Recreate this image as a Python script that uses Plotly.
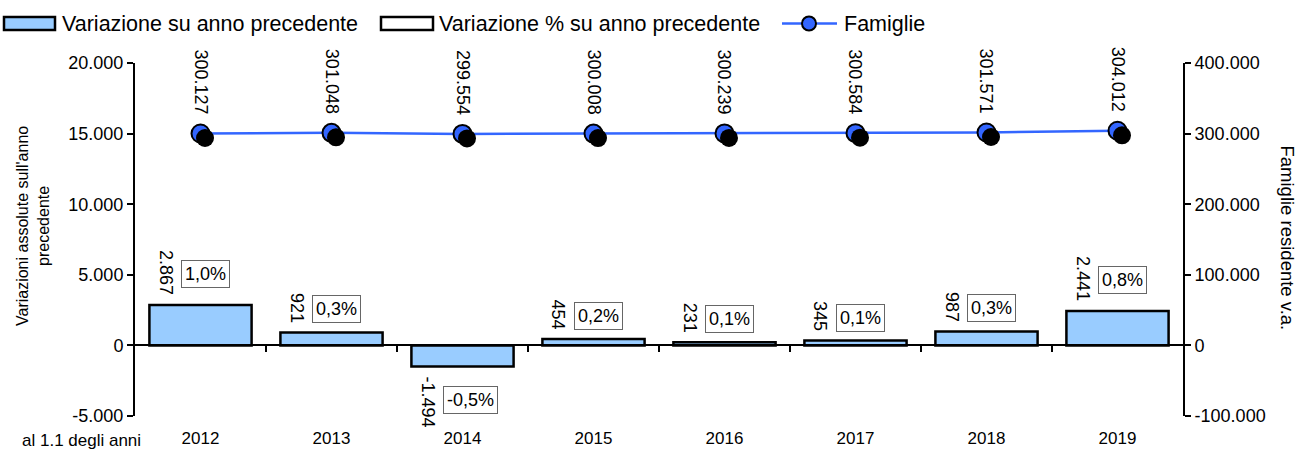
import plotly.graph_objects as go

# dati: famiglie residenti al 1.1 degli anni
anni = ["2012", "2013", "2014", "2015", "2016", "2017", "2018", "2019"]
variazione = [2867, 921, -1494, 454, 231, 345, 987, 2441]
variazione_pct = [1.0, 0.3, -0.5, 0.2, 0.1, 0.1, 0.3, 0.8]
famiglie = [300127, 301048, 299554, 300008, 300239, 300584, 301571, 304012]

left_ticks = [-5000, 0, 5000, 10000, 15000, 20000]
left_ticktext = ["-5.000", "0", "5.000", "10.000", "15.000", "20.000"]
right_ticks = [-100000, 0, 100000, 200000, 300000, 400000]
right_ticktext = ["-100.000", "0", "100.000", "200.000", "300.000", "400.000"]

FONT = "Arial, Liberation Sans, sans-serif"
BLUE_BAR = "#99CCFF"
BLUE_LINE = "#3366FF"

W, H = 1297, 451
L, R, T, B = 135, 1183, 63, 416   # area del grafico in pixel
FS = 18


def fmt_int(v):
    return f"{v:,}".replace(",", ".")


def fmt_pct(v):
    return f"{v:.1f}%".replace(".", ",")


def xp(px):
    return (px - L) / (R - L)


def yp(py):
    return (B - py) / (B - T)


def text_len(s, fs=FS):
    # larghezze approssimate Arial
    w = 0
    for ch in s:
        if ch in ".,":
            w += 0.278
        elif ch == "-":
            w += 0.333
        else:
            w += 0.556
    return w * fs


n = len(anni)
idx = list(range(n))   # posizione delle categorie sull'asse

fig = go.Figure()

fig.add_trace(go.Bar(
    x=anni, y=variazione, name="Variazione su anno precedente",
    marker=dict(color=BLUE_BAR, line=dict(color="black", width=2.5)),
    xaxis="x", yaxis="y", showlegend=False,
))

# asse per la linea dello zero con le tacche
fig.add_trace(go.Scatter(x=[], y=[], xaxis="x3", yaxis="y", showlegend=False))

# ombra dei marker (assi sovrapposti spostati di qualche pixel)
dx = 4.5 / ((R - L) / n)
dy = 4.5 * 500000 / (B - T)
fig.add_trace(go.Scatter(
    x=anni, y=famiglie, mode="markers",
    marker=dict(color="black", size=18),
    xaxis="x2", yaxis="y3", showlegend=False, hoverinfo="skip",
))

fig.add_trace(go.Scatter(
    x=anni, y=famiglie, mode="lines+markers", name="Famiglie",
    line=dict(color=BLUE_LINE, width=2.5),
    marker=dict(color=BLUE_LINE, size=18, line=dict(color="black", width=2)),
    xaxis="x", yaxis="y2", showlegend=False,
))

ann = []
for i, v, p in zip(idx, variazione, variazione_pct):
    s = fmt_int(v)
    ln = text_len(s)
    sign = 1 if v >= 0 else -1
    ann.append(dict(
        x=i, y=v, xref="x", yref="y", text=s, textangle=90,
        showarrow=False, xshift=-35, yshift=8 * sign,
        yanchor="bottom" if v >= 0 else "top",
        font=dict(family=FONT, size=FS, color="black"),
    ))
    ann.append(dict(
        x=i, y=v, xref="x", yref="y", text=fmt_pct(p),
        showarrow=False, xshift=-20, yshift=sign * (8 + ln / 2),
        xanchor="left", yanchor="middle",
        bordercolor="#666666", borderwidth=1, borderpad=3, bgcolor="white",
        font=dict(family=FONT, size=FS, color="black"),
    ))

for i, f in zip(idx, famiglie):
    ann.append(dict(
        x=i, y=f, xref="x", yref="y2", text=fmt_int(f), textangle=90,
        showarrow=False, yshift=17, yanchor="bottom",
        font=dict(family=FONT, size=FS, color="black"),
    ))

# titoli assi
ann.append(dict(
    x=xp(12), y=yp(226), xref="paper", yref="paper",
    text="Variazioni assolute sull'anno<br>precedente", textangle=-90,
    showarrow=False, font=dict(family=FONT, size=16, color="black"),
))
ann.append(dict(
    x=xp(1300), y=yp(238), xref="paper", yref="paper",
    text="Famiglie residente v.a.", textangle=90,
    showarrow=False, font=dict(family=FONT, size=18.5, color="black"),
))
ann.append(dict(
    x=xp(20), y=yp(440), xref="paper", yref="paper",
    xanchor="left", yanchor="middle",
    text="al 1.1 degli anni", showarrow=False,
    font=dict(family=FONT, size=17, color="black"),
))

# legenda
shapes = [
    dict(type="rect", xref="paper", yref="paper",
         x0=xp(4), x1=xp(55), y0=yp(17), y1=yp(30),
         fillcolor=BLUE_BAR, line=dict(color="black", width=2.5)),
    dict(type="rect", xref="paper", yref="paper",
         x0=xp(381), x1=xp(433), y0=yp(17), y1=yp(30),
         fillcolor="white", line=dict(color="black", width=2.5)),
    dict(type="line", xref="paper", yref="paper",
         x0=xp(782), x1=xp(837), y0=yp(23.5), y1=yp(23.5),
         line=dict(color=BLUE_LINE, width=2.5)),
    dict(type="circle", xref="paper", yref="paper",
         x0=xp(802), x1=xp(816), y0=yp(16.5), y1=yp(30.5),
         fillcolor=BLUE_LINE, line=dict(color="black", width=2)),
]
for x0, txt in [(60, "Variazione su anno precedente"),
                (437, "Variazione % su anno precedente"),
                (842, "Famiglie")]:
    ann.append(dict(
        x=xp(x0), y=yp(23.5), xref="paper", yref="paper",
        xanchor="left", yanchor="middle", text=txt, showarrow=False,
        font=dict(family=FONT, size=21.5, color="black"),
    ))

fig.update_layout(
    width=W, height=H,
    margin=dict(l=L, r=W - R, t=T, b=H - B, pad=0, autoexpand=False),
    paper_bgcolor="white", plot_bgcolor="white",
    font=dict(family=FONT, size=FS, color="black"),
    bargap=0.22,
    showlegend=False,
    xaxis=dict(
        type="category", range=[-0.5, n - 0.5], showgrid=False,
        showline=False, ticks="", zeroline=False, ticklabelstandoff=10,
        automargin=False,
        tickfont=dict(family=FONT, size=17, color="black"),
    ),
    xaxis2=dict(
        type="category", overlaying="x", range=[-0.5 - dx, n - 0.5 - dx],
        visible=False,
    ),
    xaxis3=dict(
        type="linear", overlaying="x", anchor="free", position=0.2,
        range=[-0.5, n - 0.5], automargin=False,
        showline=True, linecolor="black", linewidth=2,
        ticks="outside", ticklen=6, tickwidth=2, tickcolor="black",
        tickvals=[i + 0.5 for i in range(n - 1)], showticklabels=False,
        showgrid=False, zeroline=False,
    ),
    yaxis=dict(
        range=[left_ticks[0], left_ticks[-1]], tickvals=left_ticks,
        ticktext=left_ticktext, showgrid=False, zeroline=False,
        showline=True, linecolor="black", linewidth=2, automargin=False,
        ticks="outside", ticklen=6, tickwidth=2, tickcolor="black",
        tickfont=dict(family=FONT, size=FS, color="black"),
    ),
    yaxis2=dict(
        range=[right_ticks[0], right_ticks[-1]], tickvals=right_ticks,
        ticktext=right_ticktext, overlaying="y", side="right",
        showgrid=False, zeroline=False, automargin=False,
        showline=True, linecolor="black", linewidth=2,
        ticks="outside", ticklen=6, tickwidth=2, tickcolor="black",
        tickfont=dict(family=FONT, size=FS, color="black"),
    ),
    yaxis3=dict(
        overlaying="y", range=[right_ticks[0] + dy, right_ticks[-1] + dy],
        visible=False,
    ),
    annotations=ann,
    shapes=shapes,
)

fig.write_html("out.html", config={"displayModeBar": False},
               post_script="document.body.style.margin='0';")
